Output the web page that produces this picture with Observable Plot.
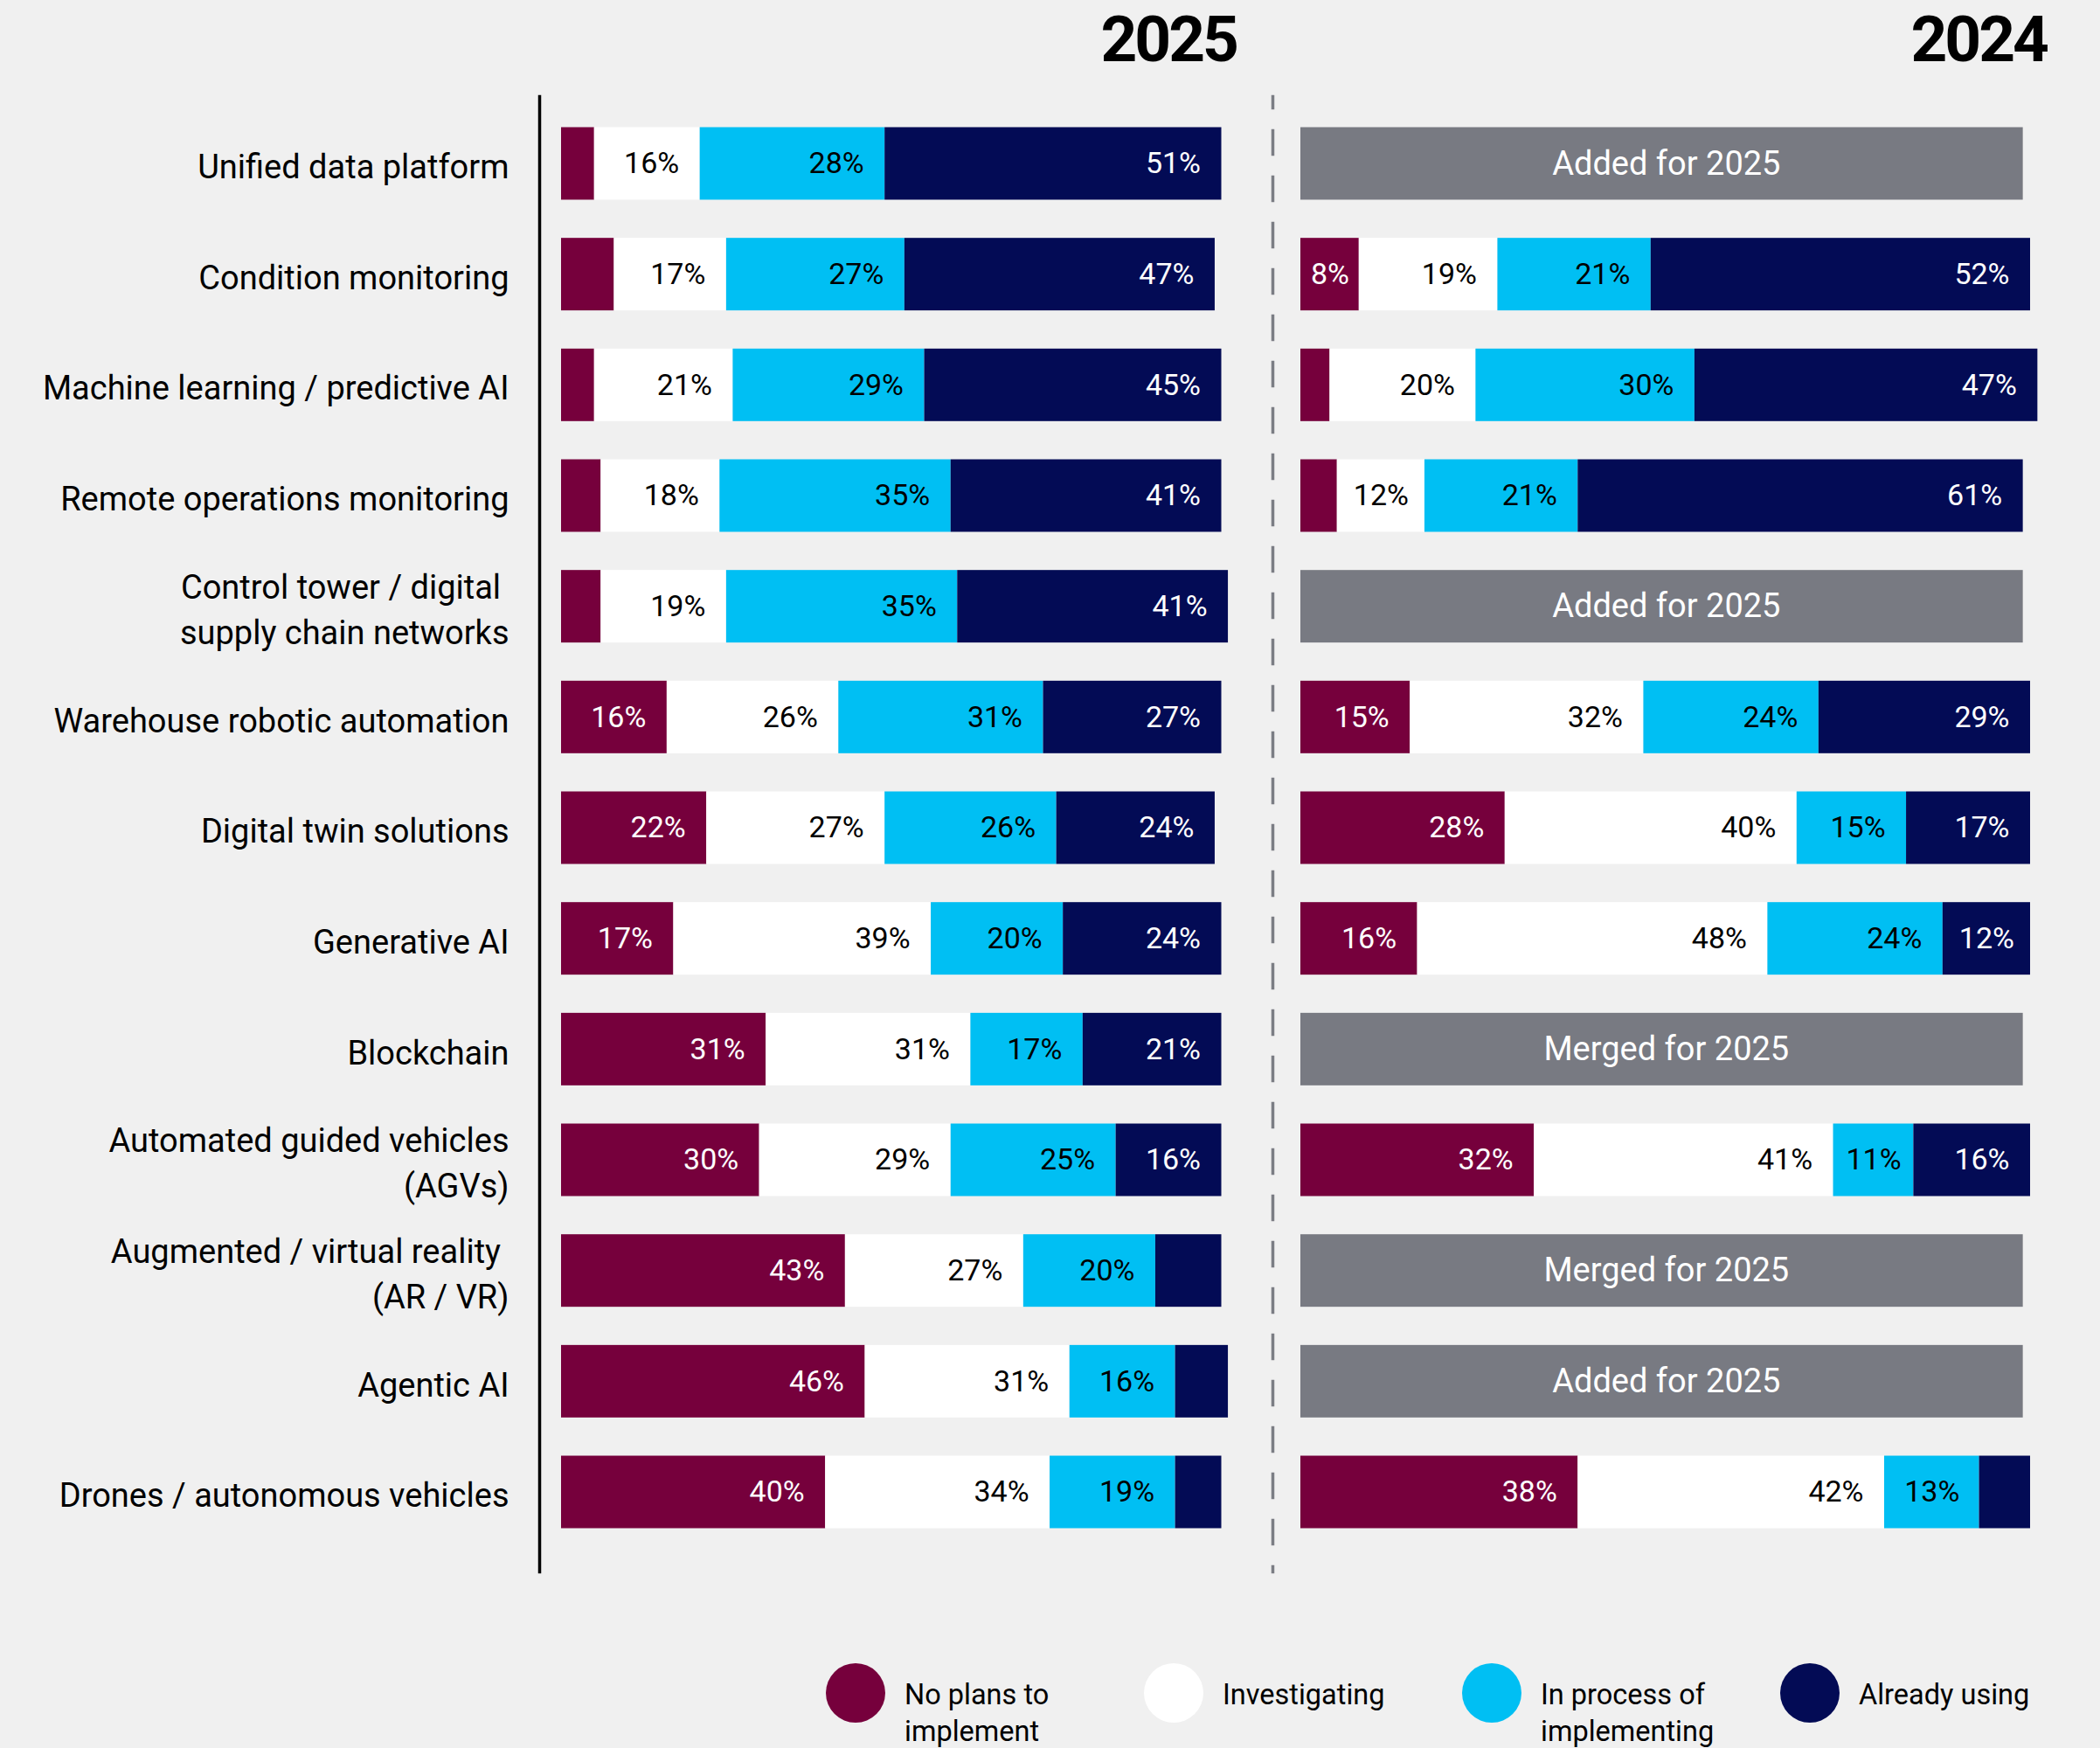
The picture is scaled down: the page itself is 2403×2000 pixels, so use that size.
<!DOCTYPE html>
<html><head><meta charset="utf-8">
<script src="https://cdn.jsdelivr.net/npm/d3@7"></script>
<script src="https://cdn.jsdelivr.net/npm/@observablehq/plot@0.6"></script>
<style>
html,body{margin:0;padding:0;background:#f0f0f0;}
#root{position:relative;width:2403px;height:2000px;overflow:hidden;font-family:Roboto,sans-serif;}
.title{position:absolute;top:9px;width:400px;text-align:right;font-weight:700;font-size:73px;line-height:73px;letter-spacing:-3px;color:#000;}
.panel{position:absolute;top:0;}
#legend{position:absolute;left:0;top:1866px;}
</style></head>
<body><div id="root"></div>
<script>
// ---------- DATA ----------
const categories = [
  "Unified data platform",
  "Condition monitoring",
  "Machine learning / predictive AI",
  "Remote operations monitoring",
  "Control tower / digital\u00a0\nsupply chain networks",
  "Warehouse robotic automation",
  "Digital twin solutions",
  "Generative AI",
  "Blockchain",
  "Automated guided vehicles\n(AGVs)",
  "Augmented / virtual reality\u00a0\n(AR / VR)",
  "Agentic AI",
  "Drones / autonomous vehicles"
];
const statuses = ["No plans to\nimplement", "Investigating", "In process of\nimplementing", "Already using"];
const statusColors = ["#76003c", "#ffffff", "#00bff3", "#030b55"];
const years = ["2025", "2024"];

const noPlans2025       = [5, 8, 5, 6, 6, 16, 22, 17, 31, 30, 43, 46, 40];
const investigating2025 = [16, 17, 21, 18, 19, 26, 27, 39, 31, 29, 27, 31, 34];
const implementing2025  = [28, 27, 29, 35, 35, 31, 26, 20, 17, 25, 20, 16, 19];
const using2025         = [51, 47, 45, 41, 41, 27, 24, 24, 21, 16, 10, 8, 7];

const noPlans2024       = [null, 8, 4, 5, null, 15, 28, 16, null, 32, null, null, 38];
const investigating2024 = [null, 19, 20, 12, null, 32, 40, 48, null, 41, null, null, 42];
const implementing2024  = [null, 21, 30, 21, null, 24, 15, 24, null, 11, null, null, 13];
const using2024         = [null, 52, 47, 61, null, 29, 17, 12, null, 16, null, null, 7];
const notes2024 = ["Added for 2025", null, null, null, "Added for 2025", null, null, null,
                   "Merged for 2025", null, "Merged for 2025", "Added for 2025", null];
const noteSpan2024 = 99;

// ---------- BUILD ----------
function rowsFor(series) {
  const out = [];
  categories.forEach((c, i) => {
    series.forEach((s, j) => {
      if (s[i] != null) out.push({category: c, status: statuses[j], value: s[i], dark: j === 0 || j === 3});
    });
  });
  return out;
}
const rows2025 = rowsFor([noPlans2025, investigating2025, implementing2025, using2025]);
const rows2024 = rowsFor([noPlans2024, investigating2024, implementing2024, using2024]);
const noteRows = categories.map((c, i) => ({category: c, note: notes2024[i], span: noteSpan2024})).filter(d => d.note);

const root = document.getElementById("root");
const H = 1810;
const yScale = {type: "band", domain: categories, range: [101.8, 1792.2], padding: 0.345, round: false, label: null};
const color = {domain: statuses, range: statusColors};
const LABEL = 34;

function labelMarks(rows, minEnd, minCenter) {
  const endTxt = dark => d => (d.dark === dark && d.value >= minEnd) ? d.value + "%" : "";
  const midTxt = dark => d => (d.dark === dark && d.value >= minCenter && d.value < minEnd) ? d.value + "%" : "";
  const marks = [];
  for (const dark of [true, false]) {
    marks.push(Plot.text(rows, Plot.stackX2({x: "value", y: "category", z: "status", text: endTxt(dark),
      textAnchor: "end", dx: -24, fill: dark ? "#ffffff" : "#000000", fontSize: LABEL})));
    marks.push(Plot.text(rows, Plot.stackX({x: "value", y: "category", z: "status", text: midTxt(dark),
      fill: dark ? "#ffffff" : "#000000", fontSize: LABEL})));
  }
  return marks;
}

const plotA = Plot.plot({
  width: 1440, height: H,
  marginLeft: 617, marginRight: 0, marginTop: 110, marginBottom: 12,
  style: {fontFamily: "Roboto", background: "transparent", color: "#000", overflow: "visible"},
  x: {domain: [0, 100], range: [642, 1397.5], axis: null},
  y: yScale,
  color,
  marks: [
    Plot.barX(rows2025, {x: "value", y: "category", z: "status", fill: "status"}),
    ...labelMarks(rows2025, 11, 11),
    Plot.axisY({tickSize: 0, tickPadding: 35, fontSize: 38, lineHeight: 1.37, fill: "#000", label: null}),
    Plot.frame({anchor: "left", stroke: "#000", strokeWidth: 3.5})
  ]
});
plotA.classList.add("panel");
plotA.style.left = "0px";
root.appendChild(plotA);

const plotB = Plot.plot({
  width: 963, height: H,
  marginLeft: 16, marginRight: 0, marginTop: 110, marginBottom: 12,
  style: {fontFamily: "Roboto", background: "transparent", color: "#000", overflow: "visible"},
  x: {domain: [0, 100], range: [48, 883], axis: null},
  y: {...yScale, axis: null},
  color,
  marks: [
    Plot.frame({anchor: "left", stroke: "#7b7d84", strokeWidth: 3.5, strokeDasharray: "27 26", strokeDashoffset: 14}),
    Plot.barX(rows2024, {x: "value", y: "category", z: "status", fill: "status"}),
    ...labelMarks(rows2024, 14, 8),
    Plot.barX(noteRows, {x1: 0, x2: "span", y: "category", fill: "#787a82"}),
    Plot.text(noteRows, {x: d => d.span / 2, y: "category", text: "note", fill: "#ffffff", fontSize: 38, dx: 5})
  ]
});
plotB.classList.add("panel");
plotB.style.left = "1440px";
root.appendChild(plotB);

// titles
[[years[0], 1015], [years[1], 1942]].forEach(([t, left]) => {
  const d = document.createElement("div");
  d.className = "title";
  d.style.left = left + "px";
  d.textContent = t;
  root.appendChild(d);
});

// legend
const legend = d3.select(root).append("svg").attr("id", "legend").attr("width", 2403).attr("height", 134);
statuses.forEach((s, i) => {
  const g = legend.append("g").attr("transform", `translate(${979 + i * 364},71)`);
  g.append("circle").attr("r", 34).attr("fill", statusColors[i]);
  const t = g.append("text").attr("font-size", 32.5).attr("font-family", "Roboto").attr("fill", "#000");
  s.split("\n").forEach((line, k) => t.append("tspan").attr("x", 56).attr("y", 13 + k * 42).text(line));
});
</script></body></html>
